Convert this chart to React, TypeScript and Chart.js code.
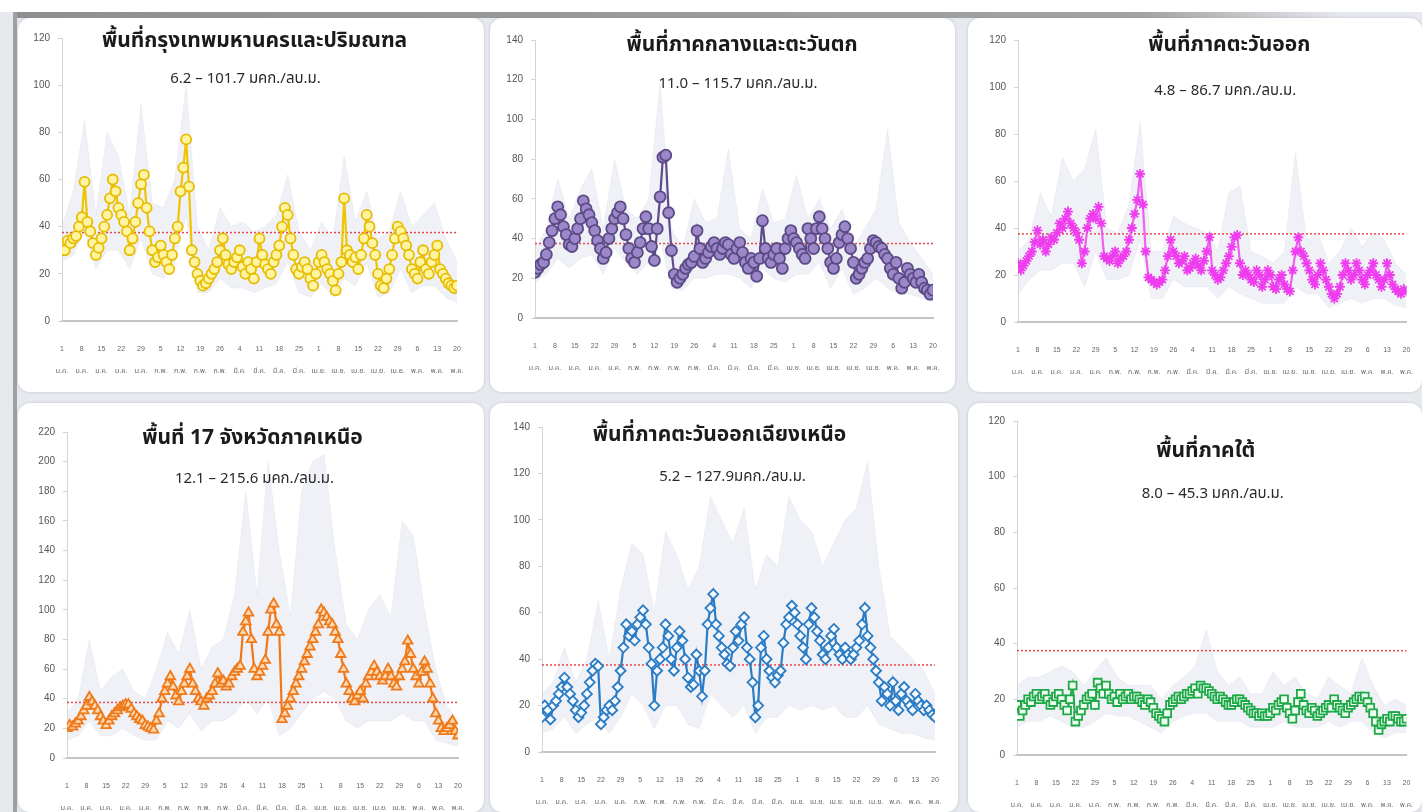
import React, { useEffect, useRef } from "react";
import { Chart, registerables } from "chart.js";
Chart.register(...registerables);

// ---------- tick labels ----------
const dayTicks = ["1","8","15","22","29","5","12","19","26","4","11","18","25","1","8","15","22","29","6","13","20"];
const monthTicks = ["ม.ค.","ม.ค.","ม.ค.","ม.ค.","ม.ค.","ก.พ.","ก.พ.","ก.พ.","ก.พ.","มี.ค.","มี.ค.","มี.ค.","มี.ค.","เม.ย.","เม.ย.","เม.ย.","เม.ย.","เม.ย.","พ.ค.","พ.ค.","พ.ค."];
const bandDays = [0,4,8,12,16,20,24,28,32,36,40,44,48,52,56,60,64,68,72,76,80,84,88,92,96,100,104,108,112,116,120,124,128,132,136,140];
const standardValue = 37.5;

// ---------- กรุงเทพฯ ----------
const bkkValues = [
  32,30,34,33,35,36,40,44,59,42,
  38,33,28,31,35,40,45,52,60,55,
  48,45,42,38,30,35,42,50,58,62,
  48,38,30,25,27,32,28,25,22,28,
  35,40,55,65,77,57,30,25,20,17,
  15,16,18,20,22,25,30,35,28,24,
  22,25,27,30,23,20,25,22,18,25,
  35,28,24,22,20,25,28,32,40,48,
  45,35,28,22,20,23,25,22,18,15,
  20,25,28,25,22,20,17,13,20,25,
  52,30,28,25,27,22,28,35,45,40,
  33,28,20,15,14,18,22,28,35,40,
  38,35,32,28,22,20,18,25,30,22,
  20,25,28,32,22,20,18,16,15,14,15];
const bkkHigh = [40,55,85,45,80,70,45,92,50,48,60,100,40,30,48,40,42,38,40,45,62,38,30,42,35,70,42,55,35,38,55,40,45,50,35,25];
const bkkLow = [25,28,38,22,30,30,22,35,20,18,25,45,12,12,18,14,14,12,14,16,25,12,10,16,10,18,15,25,10,12,22,12,15,15,10,8];

// ---------- ภาคกลางและตะวันตก ----------
const centralValues = [
  23,25,27,28,32,38,44,50,56,52,
  46,42,37,36,40,45,50,59,55,52,
  48,44,39,35,30,33,40,45,50,53,
  56,50,42,35,30,28,33,38,45,51,
  45,36,29,45,61,81,82,53,34,22,
  18,20,22,25,27,28,31,44,35,28,
  30,33,36,38,35,32,35,38,37,32,
  30,35,38,33,28,25,30,28,21,30,
  49,35,30,28,32,35,30,25,35,40,
  44,40,38,35,32,30,45,40,35,45,
  51,45,40,35,28,25,30,38,42,46,
  40,35,28,20,22,25,28,30,35,39,
  38,36,35,32,30,25,22,28,20,15,
  18,25,22,20,18,22,18,15,14,12,14];
const centralHigh = [35,45,70,50,65,75,45,80,55,50,60,118,45,35,60,48,50,85,45,40,65,48,50,72,50,60,45,55,35,45,55,95,48,38,30,22];
const centralLow = [18,22,30,25,30,32,22,35,28,22,28,40,15,14,20,20,22,22,20,15,25,20,18,22,22,28,15,25,12,15,20,15,12,12,10,8];

// ---------- ภาคตะวันออก ----------
const eastValues = [
  25,22,24,26,28,30,34,39,33,35,
  30,33,36,35,38,42,40,44,47,42,
  40,38,35,25,30,40,44,46,44,49,
  42,28,27,26,28,30,25,27,28,30,
  35,40,46,52,63,50,30,19,18,17,
  16,17,18,22,28,35,30,28,25,26,
  28,22,23,25,27,24,22,26,30,36,
  22,20,18,19,22,25,28,32,36,37,
  25,20,22,20,18,17,22,20,15,18,
  22,20,15,14,18,20,16,14,13,22,
  30,36,30,28,25,22,18,16,20,25,
  22,18,15,12,10,12,15,20,25,22,
  18,20,25,22,18,16,20,22,25,20,
  18,15,18,25,20,16,14,13,12,14,13];
const eastHigh = [30,35,55,45,70,60,65,82,40,38,50,85,30,30,45,42,40,38,30,55,58,30,28,25,30,72,35,38,25,30,40,32,38,35,25,20];
const eastLow = [12,18,22,22,25,25,15,30,18,18,20,35,10,10,18,15,15,15,10,15,12,10,8,8,8,15,12,12,6,8,10,8,10,10,7,6];

// ---------- 17 จังหวัดภาคเหนือ ----------
const northValues = [
  20,22,21,23,25,28,32,35,41,38,
  35,32,28,25,22,25,28,30,32,34,
  35,36,36,33,30,28,26,25,22,21,
  20,19,25,30,40,45,50,55,48,42,
  38,45,50,55,60,50,45,40,38,35,
  40,42,45,50,57,50,52,48,50,55,
  58,60,62,85,92,98,80,60,55,58,
  62,66,85,100,104,90,85,26,30,35,
  40,45,50,55,60,65,70,75,80,85,
  90,100,98,95,92,90,85,80,70,60,
  50,45,40,38,42,45,40,50,55,58,
  62,58,55,52,55,60,55,50,48,55,
  60,65,79,70,60,55,50,58,65,60,
  50,40,30,25,20,18,20,22,25,18,15];
const northHigh = [30,40,80,45,55,60,45,40,60,85,70,100,60,75,80,110,180,110,200,140,95,180,200,205,140,90,80,100,110,95,160,150,100,60,35,25];
const northLow = [12,15,25,15,15,20,15,12,12,25,20,30,18,25,25,30,40,30,40,15,20,30,40,45,40,25,20,25,25,25,30,25,25,12,10,8];

// ---------- ภาคตะวันออกเฉียงเหนือ ----------
const northeastValues = [
  15,20,18,14,20,22,25,28,32,28,
  25,22,18,15,17,20,25,30,35,38,
  37,12,15,18,20,18,22,28,35,45,
  55,50,52,48,55,58,61,55,45,38,
  20,35,40,45,55,50,40,35,45,52,
  48,40,32,28,29,42,35,24,35,55,
  62,68,55,50,45,42,38,37,45,52,
  48,55,58,45,40,30,15,20,45,50,
  40,35,32,30,33,35,47,55,58,63,
  60,55,50,45,40,55,62,58,52,48,
  42,40,45,50,53,45,42,40,45,42,
  40,42,45,48,55,62,50,45,40,35,
  30,22,28,25,20,30,22,18,25,28,
  22,20,18,25,22,20,18,20,18,16,15];
const northeastHigh = [25,30,45,30,40,65,40,70,90,85,60,95,85,70,80,110,100,90,105,70,85,80,110,100,95,80,90,100,105,125,80,50,45,40,35,25];
const northeastLow = [8,10,15,8,12,15,8,15,25,20,10,20,20,12,10,25,20,15,20,8,15,15,20,18,20,18,20,15,15,20,12,10,8,8,6,5];

// ---------- ภาคใต้ ----------
const southValues = [
  18,14,16,18,20,19,21,22,20,21,
  22,20,18,19,21,22,20,18,16,20,
  25,12,14,16,18,20,21,22,18,26,
  24,22,25,22,20,21,19,22,20,21,
  22,20,21,21,20,19,18,20,19,17,
  15,14,13,12,15,18,19,20,21,20,
  21,22,22,23,24,22,25,24,24,23,
  22,21,20,21,20,19,18,18,19,20,
  20,19,18,17,16,15,15,14,15,14,
  14,15,17,16,18,19,20,17,15,13,
  16,19,22,18,16,15,17,16,14,15,
  16,17,18,17,20,18,17,16,15,17,
  18,19,20,21,20,21,19,17,15,12,
  9,11,12,13,12,14,14,13,12,12,13];
const southHigh = [25,28,28,30,32,30,25,30,35,28,25,25,25,20,25,28,32,45,30,25,28,22,22,30,25,28,22,20,28,25,22,35,25,18,20,18];
const southLow = [10,12,12,14,12,10,10,12,15,14,14,12,10,8,12,14,15,15,12,12,12,10,10,10,12,10,10,10,12,10,12,12,8,6,8,8];

const FONT = "'Noto Sans Thai', 'Tahoma', 'Noto Sans', 'DejaVu Sans', sans-serif";
const TICK_FONT = "'Liberation Sans', 'Noto Sans Thai', 'Noto Sans', sans-serif";

type PanelCfg = {
  title: string; subtitle: string;
  values: number[]; high: number[]; low: number[];
  yMax: number;
  color: string; pointFill: string; pointBorder: string; pointStyle: any; pointRadius: number;
  card: { l: number; t: number; w: number; h: number };
  area: { l: number; t: number; r: number; b: number };
  tdx: number; tdy: number; sdx: number; sdy: number;
};

const panels: PanelCfg[] = [
  { title: "พื้นที่กรุงเทพมหานครและปริมณฑล", subtitle: "6.2 – 101.7 มคก./ลบ.ม.", values: bkkValues, high: bkkHigh, low: bkkLow, yMax: 120,
    color: "#f0c400", pointFill: "#fff4a0", pointBorder: "#e8bc00", pointStyle: "circle", pointRadius: 5,
    card: { l: 18, t: 18, w: 466, h: 374 }, area: { l: 62, t: 38, r: 457, b: 321 }, tdx: -5, tdy: 5, sdx: -14, sdy: 42 },
  { title: "พื้นที่ภาคกลางและตะวันตก", subtitle: "11.0 – 115.7 มคก./ลบ.ม.", values: centralValues, high: centralHigh, low: centralLow, yMax: 140,
    color: "#5e4b8b", pointFill: "#9c88c9", pointBorder: "#5b4a86", pointStyle: "circle", pointRadius: 5.5,
    card: { l: 490, t: 18, w: 465, h: 374 }, area: { l: 535, t: 40, r: 933, b: 318 }, tdx: 8, tdy: 7, sdx: 4, sdy: 45 },
  { title: "พื้นที่ภาคตะวันออก", subtitle: "4.8 – 86.7 มคก./ลบ.ม.", values: eastValues, high: eastHigh, low: eastLow, yMax: 120,
    color: "#f060f0", pointFill: "#f040f0", pointBorder: "#ee3cee", pointStyle: "star", pointRadius: 5,
    card: { l: 968, t: 18, w: 454, h: 374 }, area: { l: 1018, t: 40, r: 1412, b: 322 }, tdx: 17, tdy: 7, sdx: 13, sdy: 52 },
  { title: "พื้นที่ 17 จังหวัดภาคเหนือ", subtitle: "12.1 – 215.6 มคก./ลบ.ม.", values: northValues, high: northHigh, low: northLow, yMax: 220,
    color: "#f07818", pointFill: "#fdd8b0", pointBorder: "#f07a1a", pointStyle: "triangle", pointRadius: 5.5,
    card: { l: 18, t: 403, w: 466, h: 409 }, area: { l: 67, t: 432, r: 458, b: 758 }, tdx: -10, tdy: 8, sdx: -8, sdy: 48 },
  { title: "พื้นที่ภาคตะวันออกเฉียงเหนือ", subtitle: "5.2 – 127.9มคก./ลบ.ม.", values: northeastValues, high: northeastHigh, low: northeastLow, yMax: 140,
    color: "#2b7cc4", pointFill: "#f4faff", pointBorder: "#2b7cc4", pointStyle: "rectRot", pointRadius: 5,
    card: { l: 490, t: 403, w: 468, h: 409 }, area: { l: 542, t: 427, r: 935, b: 752 }, tdx: -19, tdy: 10, sdx: -6, sdy: 51 },
  { title: "พื้นที่ภาคใต้", subtitle: "8.0 – 45.3 มคก./ลบ.ม.", values: southValues, high: southHigh, low: southLow, yMax: 120,
    color: "#22b04b", pointFill: "#effff2", pointBorder: "#1fa848", pointStyle: "rect", pointRadius: 5.5,
    card: { l: 968, t: 403, w: 454, h: 409 }, area: { l: 1017, t: 421, r: 1413, b: 755 }, tdx: -6, tdy: 32, sdx: 1, sdy: 74 },
];

function Panel({ cfg }: { cfg: PanelCfg }) {
  const ref = useRef<HTMLCanvasElement>(null);
  useEffect(() => {
    if (!ref.current) return;
    const yAxisW = cfg.area.l - cfg.card.l;
    const padTop = cfg.area.t - cfg.card.t;
    const padRight = cfg.card.l + cfg.card.w - cfg.area.r;
    const xAxisH = cfg.card.t + cfg.card.h - cfg.area.b;
    const titlePlugin = {
      id: "panelTitle",
      afterDraw(chart: any) {
        const { ctx, chartArea } = chart;
        const cx = (chartArea.left + chartArea.right) / 2;
        ctx.save();
        ctx.textAlign = "center";
        ctx.textBaseline = "middle";
        ctx.fillStyle = "#1b1b1b";
        ctx.font = `bold 21px ${FONT}`;
        ctx.fillText(cfg.title, cx + cfg.tdx, chartArea.top + cfg.tdy);
        ctx.font = `15px ${FONT}`;
        ctx.fillStyle = "#2a2a2a";
        ctx.fillText(cfg.subtitle, cx + cfg.sdx, chartArea.top + cfg.sdy);
        ctx.restore();
      },
    };
    const chart = new Chart(ref.current, {
      type: "line",
      data: {
        datasets: [
          {
            label: "main",
            data: cfg.values.map((v, i) => ({ x: i, y: v })),
            borderColor: cfg.color,
            borderWidth: 2.2,
            pointStyle: cfg.pointStyle,
            pointRadius: cfg.pointRadius,
            pointBackgroundColor: cfg.pointFill,
            pointBorderColor: cfg.pointBorder,
            pointBorderWidth: 1.8,
            tension: 0,
            fill: false,
            order: 0,
          },
          {
            label: "standard",
            data: [{ x: 0, y: standardValue }, { x: 140, y: standardValue }],
            borderColor: "#e5484d",
            borderWidth: 1.5,
            borderDash: [2, 2],
            pointRadius: 0,
            fill: false,
            order: 1,
          },
          {
            label: "high",
            data: bandDays.map((d, i) => ({ x: d, y: cfg.high[i] })),
            borderColor: "rgba(205,212,226,0.5)",
            borderWidth: 0.5,
            backgroundColor: "rgba(212,218,232,0.38)",
            pointRadius: 0,
            fill: "+1",
            order: 2,
          },
          {
            label: "low",
            data: bandDays.map((d, i) => ({ x: d, y: cfg.low[i] })),
            borderColor: "rgba(205,212,226,0.5)",
            borderWidth: 0.5,
            pointRadius: 0,
            fill: false,
            order: 3,
          },
        ],
      },
      options: {
        animation: false,
        responsive: false,
        maintainAspectRatio: false,
        events: [],
        layout: { padding: { left: 0, top: padTop, right: padRight, bottom: 0 } },
        plugins: { legend: { display: false }, tooltip: { enabled: false }, title: { display: false } },
        scales: {
          x: {
            type: "linear",
            min: 0,
            max: 140,
            afterFit: (s: any) => { s.height = xAxisH; },
            ticks: {
              stepSize: 7,
              maxTicksLimit: 25,
              autoSkip: false,
              maxRotation: 0,
              minRotation: 0,
              padding: 9,
              color: "#666",
              font: { size: 7, family: TICK_FONT, lineHeight: "22px" } as any,
              callback: (v: any) => {
                const i = Math.round(Number(v) / 7);
                return [dayTicks[i], monthTicks[i]];
              },
            },
            grid: { display: false },
            border: { display: true, color: "#c4c4c4", width: 2 },
          },
          y: {
            min: 0,
            max: cfg.yMax,
            afterFit: (s: any) => { s.width = yAxisW; },
            ticks: { stepSize: 20, padding: 8, color: "#555", font: { size: 10, family: TICK_FONT } },
            grid: { drawOnChartArea: false, drawTicks: true, tickLength: 4, color: "#d4d4d4" },
            border: { display: true, color: "#d4d4d4", width: 1 },
          },
        },
      } as any,
      plugins: [titlePlugin],
    });
    return () => chart.destroy();
  }, []);
  return (
    <div
      style={{
        position: "absolute",
        left: cfg.card.l,
        top: cfg.card.t,
        width: cfg.card.w,
        height: cfg.card.h,
        background: "#ffffff",
        borderRadius: 12,
        overflow: "hidden",
        boxShadow: "0 0 3px rgba(120,130,150,0.35)",
      }}
    >
      <canvas ref={ref} width={cfg.card.w} height={cfg.card.h} style={{ display: "block" }} />
    </div>
  );
}

export default function App() {
  useEffect(() => {
    document.body.style.margin = "0";
  }, []);
  return (
    <div style={{ position: "absolute", left: 0, top: 0, width: 1422, height: 812, background: "#e6e9ee", overflow: "hidden" }}>
      <div style={{ position: "absolute", left: 0, top: 0, width: 1422, height: 12, background: "#ffffff" }} />
      <div style={{ position: "absolute", left: 13, top: 12, width: 1330, height: 6, background: "linear-gradient(to right, #8f8f8f, #a3a3a3 85%, rgba(170,170,170,0))" }} />
      <div style={{ position: "absolute", left: 13, top: 12, width: 4, height: 800, background: "#a0a0a0" }} />
      {panels.map((p, i) => (
        <Panel key={i} cfg={p} />
      ))}
    </div>
  );
}
